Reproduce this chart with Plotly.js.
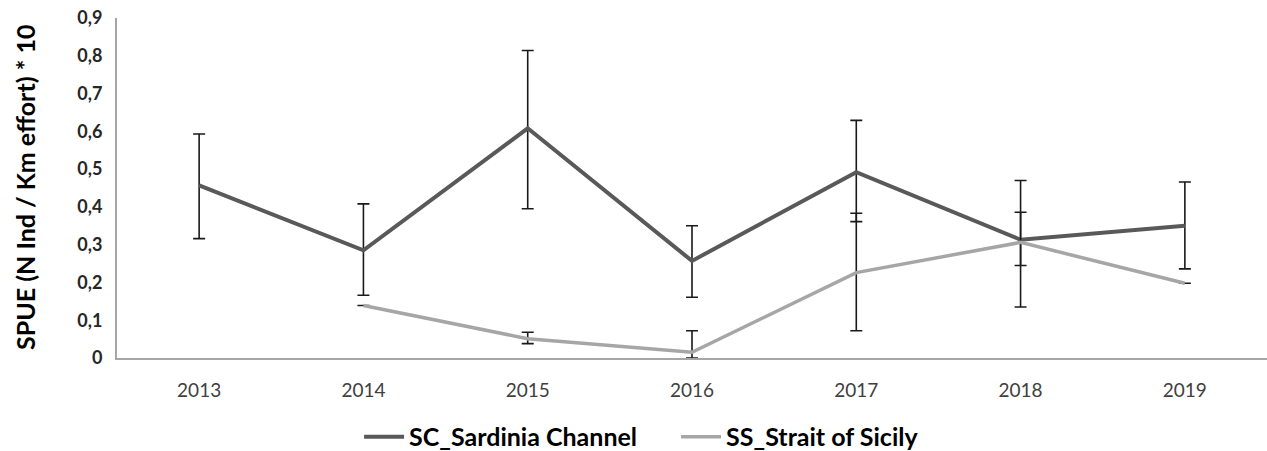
<!DOCTYPE html>
<html>
<head>
<meta charset="utf-8">
<script src="https://cdn.plot.ly/plotly-3.0.1.min.js"></script>
<style>html,body{margin:0;padding:0;background:#fff;}#chart{width:1267px;height:451px;}</style>
</head>
<body>
<div id="chart"></div>
<script>
const years = ['2013','2014','2015','2016','2017','2018','2019'];
const scName = 'SC_Sardinia Channel';
const ssName = 'SS_Strait of Sicily';
const scValues = [0.457, 0.285, 0.608, 0.257, 0.492, 0.313, 0.350];
const scErrPlus = [0.136, 0.123, 0.206, 0.093, 0.137, 0.157, 0.116];
const scErrMinus = [0.141, 0.119, 0.213, 0.096, 0.131, 0.178, 0.114];
const ssValues = [null, 0.139, 0.051, 0.015, 0.226, 0.306, 0.198];
const ssErrPlus = [null, 0, 0.017, 0.057, 0.157, 0.080, 0];
const ssErrMinus = [null, 0, 0.013, 0.015, 0.154, 0.061, 0];
const yTickVals = [0, 0.1, 0.2, 0.3, 0.4, 0.5, 0.6, 0.7, 0.8, 0.9];
const yTickText = ['0', '0,1', '0,2', '0,3', '0,4', '0,5', '0,6', '0,7', '0,8', '0,9'];
const yTitle = 'SPUE (N Ind / Km effort) * 10';

const errStyle = {type: 'data', symmetric: false, color: '#1a1a1a', thickness: 1.6, width: 6};

const traces = [
  {
    x: years, y: scValues, name: scName, type: 'scatter', mode: 'lines',
    line: {color: '#595959', width: 4},
    error_y: Object.assign({array: scErrPlus, arrayminus: scErrMinus}, errStyle)
  },
  {
    x: years, y: ssValues, name: ssName, type: 'scatter', mode: 'lines',
    line: {color: '#a6a6a6', width: 3.5},
    error_y: Object.assign({array: ssErrPlus, arrayminus: ssErrMinus}, errStyle)
  }
];

const layout = {
  width: 1267, height: 451,
  margin: {l: 117, r: 0, t: 18, b: 93, autoexpand: false},
  paper_bgcolor: '#ffffff', plot_bgcolor: '#ffffff',
  font: {family: 'Lato, "Open Sans", sans-serif', color: '#262626'},
  showlegend: true,
  legend: {
    orientation: 'h', x: 0.2105, xanchor: 'left', y: -0.232, yanchor: 'middle',
    font: {size: 25, weight: 'bold', color: '#000000'},
    itemwidth: 40, tracegroupgap: 0, entrywidth: 262, entrywidthmode: 'pixels'
  },
  xaxis: {
    type: 'category', range: [-0.5, 6.5],
    showline: true, linecolor: '#a6a6a6', linewidth: 2,
    showgrid: false, zeroline: false,
    ticks: 'outside', ticklen: 14, tickcolor: 'rgba(0,0,0,0)',
    tickfont: {size: 19, color: '#404040'}
  },
  yaxis: {
    range: [0, 0.9],
    showline: true, linecolor: '#a6a6a6', linewidth: 2,
    showgrid: false, zeroline: false,
    tickvals: yTickVals, ticktext: yTickText,
    ticks: 'outside', ticklen: 9, tickcolor: 'rgba(0,0,0,0)',
    tickfont: {size: 18, weight: 'bold', color: '#262626'}
  },
  annotations: [{
    text: yTitle, xref: 'paper', yref: 'paper',
    x: -92/1150, y: 0.5, xanchor: 'center', yanchor: 'middle',
    textangle: -90, showarrow: false,
    font: {size: 25, weight: 'bold', color: '#000000'}
  }]
};

Plotly.newPlot('chart', traces, layout, {displayModeBar: false, staticPlot: true});
</script>
</body>
</html>
